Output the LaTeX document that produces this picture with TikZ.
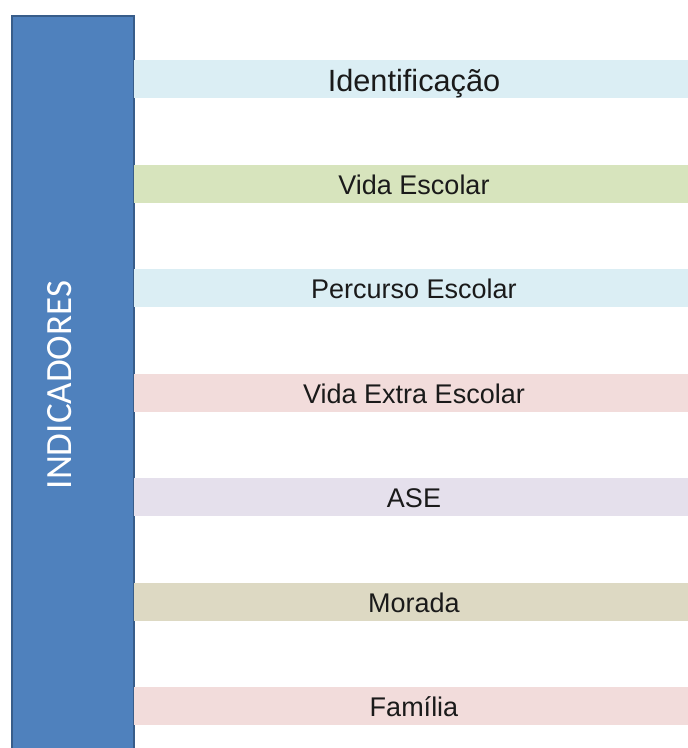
\documentclass[tikz,border=0pt]{standalone}
\usepackage{fontspec}
\setmainfont{Liberation Sans}
\newfontfamily\calib{Carlito}
\definecolor{mainblue}{HTML}{4F81BD}
\definecolor{mainedge}{HTML}{385D8A}
\definecolor{cblue}{HTML}{DBEEF4}
\definecolor{cgreen}{HTML}{D7E4BD}
\definecolor{cpink}{HTML}{F2DCDB}
\definecolor{clav}{HTML}{E5E0EC}
\definecolor{ctan}{HTML}{DDD9C3}
\definecolor{txt}{HTML}{1A1A1A}
\begin{document}
\begin{tikzpicture}[x=1pt,y=-1pt,
  barbox/.style={fill=#1, draw=none, minimum width=566pt, minimum height=38pt, inner sep=0pt, anchor=north west},
  bartext/.style={anchor=base, text=txt, inner sep=0pt, font=\fontsize{27}{32}\selectfont}]
\useasboundingbox (0,0) rectangle (688,748);
\fill[white] (0,0) rectangle (688,748);
% main vertical box
\node[fill=mainblue, draw=mainedge, line width=2pt, inner sep=0pt, anchor=north west,
      minimum width=122pt, minimum height=745pt] (main) at (11,15) {};
\node[rotate=90, text=white, inner sep=0pt, font=\calib\fontsize{37}{40}\selectfont] (ind) at (60,385) {INDICADORES};
% bars
\node[barbox=cblue]  (b1) at (134,60) {};
\node[barbox=cgreen] (b2) at (134,164.5) {};
\node[barbox=cblue]  (b3) at (134,269) {};
\node[barbox=cpink]  (b4) at (134,373.5) {};
\node[barbox=clav]   (b5) at (134,478) {};
\node[barbox=ctan]   (b6) at (134,582.5) {};
\node[barbox=cpink]  (b7) at (134,687) {};
\node[anchor=base, text=txt, inner sep=0pt, font=\fontsize{30.7}{34}\selectfont] (t1) at (414,91) {Identificação};
\node[bartext] (t2) at (414,194.3) {Vida Escolar};
\node[bartext] (t3) at (414,298.8) {Percurso Escolar};
\node[bartext] (t4) at (414,403.3) {Vida Extra Escolar};
\node[bartext] (t5) at (414,507.8) {ASE};
\node[bartext] (t6) at (414,612.3) {Morada};
\node[bartext] (t7) at (414,716.8) {Família};
\end{tikzpicture}
\end{document}
